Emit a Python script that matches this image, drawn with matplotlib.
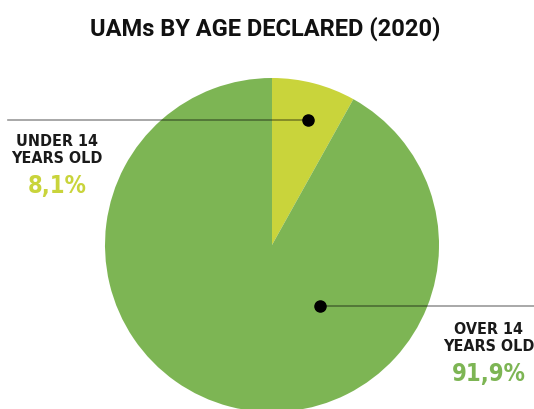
import matplotlib.pyplot as plt

labels = ["UNDER 14\nYEARS OLD", "OVER 14\nYEARS OLD"]
values = [8.1, 91.9]
pct_text = ["8,1%", "91,9%"]
colors = ["#C9D43B", "#7DB554"]

W, H = 534, 409
fig = plt.figure(figsize=(W / 100, H / 100), dpi=100)
ax = fig.add_axes([0, 0, 1, 1])

cx, cy, r = 272, H - 245, 167
ax.pie(values, colors=colors, startangle=90, counterclock=False,
       center=(cx, cy), radius=r, frame=True,
       wedgeprops={"linewidth": 0})
ax.set_xlim(0, W)
ax.set_ylim(0, H)
ax.set_aspect("equal")
ax.axis("off")

font = dict(family="DejaVu Sans", fontstretch="condensed", fontweight="bold")

# leader lines and dots
ax.plot([8, 308], [H - 120, H - 120], color="black", alpha=0.4, lw=1.2)
ax.plot([308], [H - 120], "o", color="black", ms=8)
ax.plot([320, W], [H - 306, H - 306], color="black", alpha=0.4, lw=1.2)
ax.plot([320], [H - 306], "o", color="black", ms=8)

ax.text(57, H - 150, labels[0], ha="center", va="center", fontsize=11.5,
        color="#1a1a1a", linespacing=1.15, **font)
ax.text(57, H - 186, pct_text[0], ha="center", va="center", fontsize=17,
        color=colors[0], **font)
ax.text(489, H - 338, labels[1], ha="center", va="center", fontsize=11.5,
        color="#1a1a1a", linespacing=1.15, **font)
ax.text(489, H - 374, pct_text[1], ha="center", va="center", fontsize=17,
        color=colors[1], **font)

ax.text(265, H - 29, "UAMs BY AGE DECLARED (2020)", ha="center",
        va="center", fontsize=17, color="#111111",
        family=["Roboto", "DejaVu Sans"], fontweight="bold")

fig.savefig("out.png", dpi=100, facecolor="white")
